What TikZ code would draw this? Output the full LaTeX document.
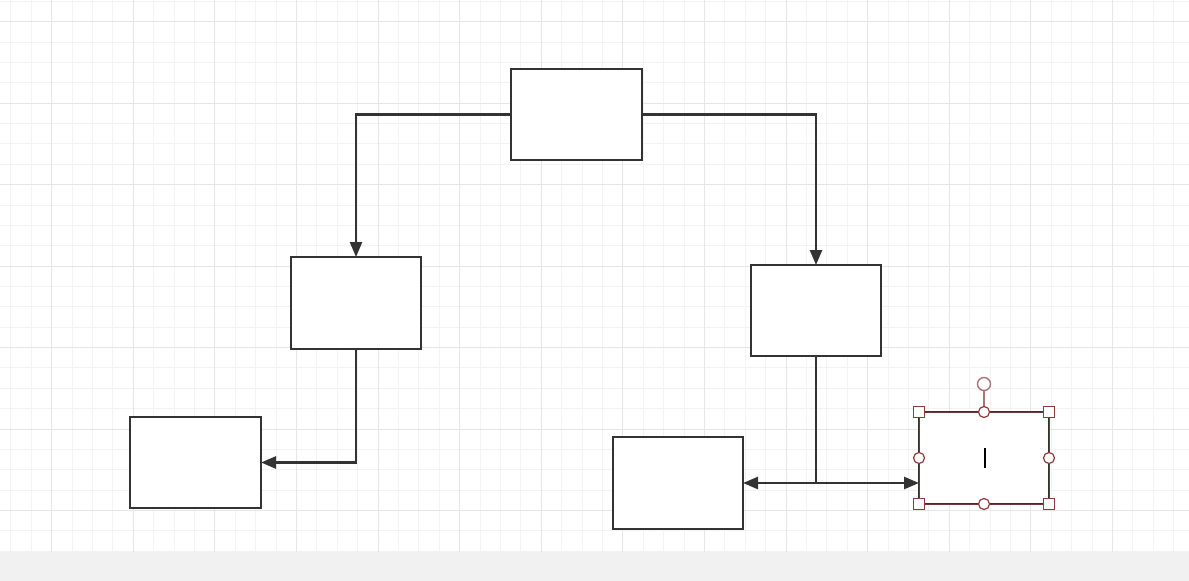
\documentclass[tikz,border=0pt]{standalone}
\usetikzlibrary{arrows.meta}
\definecolor{minorg}{HTML}{F3F3F3}
\definecolor{majorg}{HTML}{E6E6E6}
\definecolor{stripg}{HTML}{F1F1F1}
\definecolor{boxline}{HTML}{333333}
\definecolor{selred}{HTML}{8E3A3A}
\definecolor{rotred}{HTML}{B07272}
\begin{document}
\begin{tikzpicture}[x=1pt,y=-1pt,
  box/.style={draw=boxline,line width=2.5pt,fill=white,minimum width=130pt,minimum height=91pt,outer sep=0pt,inner sep=0pt},
  conn/.style={draw=boxline,line width=2.5pt,-{Triangle[length=15pt,width=12pt]}},
  plain/.style={draw=boxline,line width=2.5pt},
  gridminor/.style={draw=minorg,line width=1pt},
  gridmajor/.style={draw=majorg,line width=1pt},
  sqh/.style={draw=selred,line width=1.2pt,fill=white,minimum size=11pt,inner sep=0pt,outer sep=0pt,rectangle},
  cih/.style={draw=selred,line width=1.2pt,fill=white,minimum size=11pt,inner sep=0pt,outer sep=0pt,circle}]
\useasboundingbox (0,0) rectangle (1189,581);
\fill[white] (0,0) rectangle (1189,552);
% minor grid
\foreach \i in {-2,...,55} {
  \draw[gridminor] ({51.7+20.4*\i},0) -- ({51.7+20.4*\i},552);
}
\foreach \j in {-1,...,26} {
  \draw[gridminor] (0,{21.7+20.37*\j}) -- (1189,{21.7+20.37*\j});
}
% major grid
\foreach \i in {0,...,14} {
  \draw[gridmajor] ({51.7+81.6*\i},0) -- ({51.7+81.6*\i},552);
}
\foreach \j in {0,...,6} {
  \draw[gridmajor] (0,{21.7+81.48*\j}) -- (1189,{21.7+81.48*\j});
}
\fill[stripg] (0,552) rectangle (1189,581);
% boxes
\node[box,minimum width=131pt] (top) at (576.5,114.5) {};
\node[box,minimum height=92pt] (lm) at (356,303) {};
\node[box] (rm) at (816,310.5) {};
\node[box,minimum width=131pt] (bl) at (195.5,462.5) {};
\node[box,minimum height=92pt] (bm) at (678,483) {};
\node[box,minimum height=92pt] (sel) at (984,458) {};
% connectors
\draw[conn] (top.west) -| (lm.north);
\draw[conn] (top.east) -| (rm.north);
\draw[conn] (lm.south) |- (bl.east);
\coordinate (j) at (816,483);
\draw[plain] (rm.south) -- (j);
\draw[conn] (j) -- (bm.east);
\draw[conn] (j) -- (sel.west |- j);
% selection overlay
\draw[selred!70!boxline,line width=0.8pt] (sel.north west) rectangle (sel.south east);
\coordinate (rot) at (984,384);
\draw[rotred,line width=1.4pt] (rot) -- (sel.north);
\node[circle,draw=rotred,line width=1.4pt,fill=white,minimum size=13pt,inner sep=0pt] (roth) at (rot) {};
\node[sqh] (h1) at (sel.north west) {};
\node[sqh] (h2) at (sel.north east) {};
\node[sqh] (h3) at (sel.south west) {};
\node[sqh] (h4) at (sel.south east) {};
\node[cih] (h5) at (sel.north) {};
\node[cih] (h6) at (sel.south) {};
\node[cih] (h7) at (sel.west) {};
\node[cih] (h8) at (sel.east) {};
% text cursor
\draw[black,line width=1.8pt] (985,448) -- (985,468);
\end{tikzpicture}
\end{document}
